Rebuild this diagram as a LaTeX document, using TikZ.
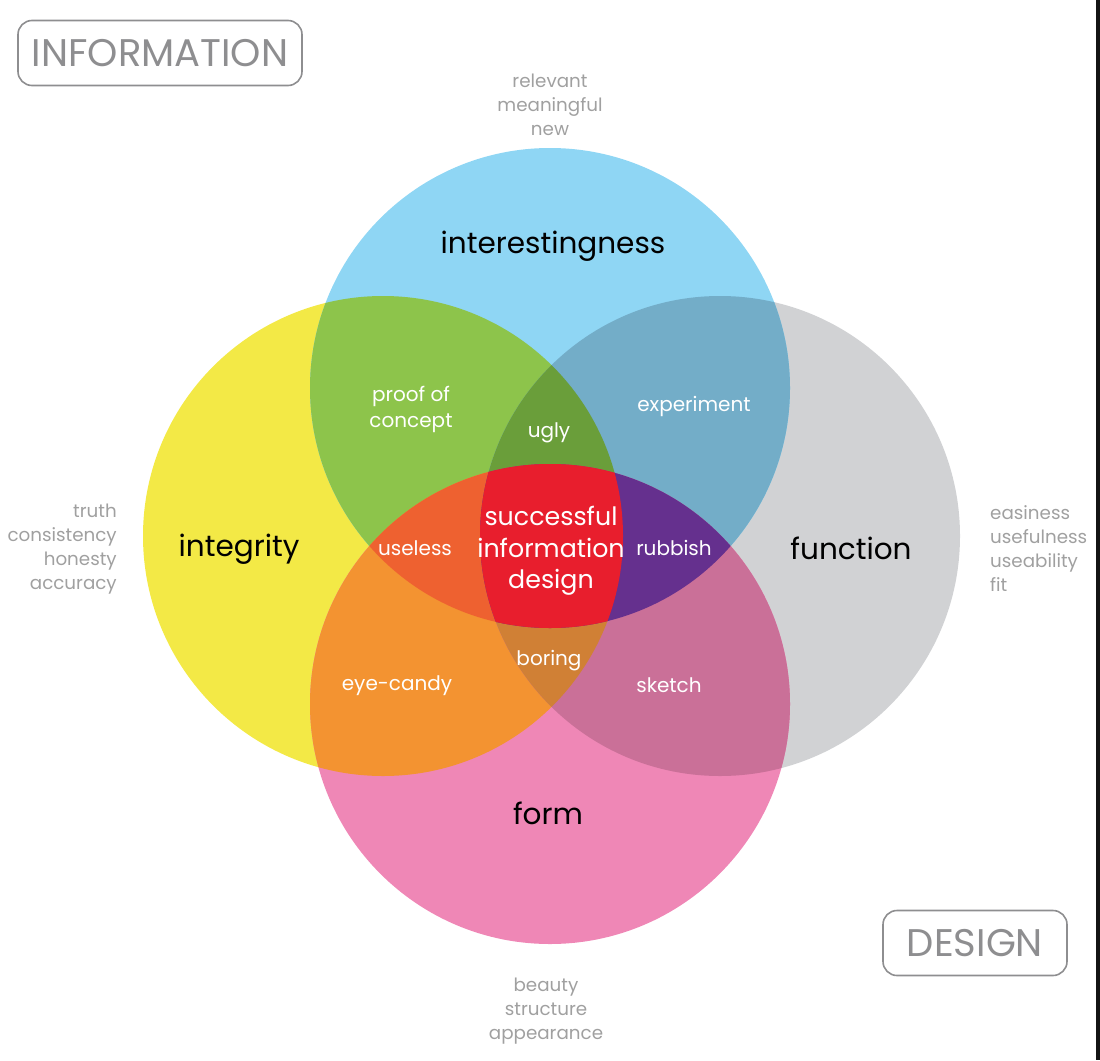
\documentclass[tikz,border=0pt]{standalone}
\usepackage{fontspec}
\setmainfont{Poppins}
\usepackage{xcolor}
\definecolor{skyonly}{HTML}{8FD6F4}
\definecolor{lemononly}{HTML}{F3E946}
\definecolor{greyonly}{HTML}{D1D2D4}
\definecolor{pinkonly}{HTML}{EF87B6}
\definecolor{proofgreen}{HTML}{8DC44B}
\definecolor{expblue}{HTML}{73ADC8}
\definecolor{candyorange}{HTML}{F39331}
\definecolor{sketchmauve}{HTML}{CA7098}
\definecolor{uglygreen}{HTML}{6A9E3A}
\definecolor{uselessred}{HTML}{EE6130}
\definecolor{rubbishpurple}{HTML}{65308E}
\definecolor{boringbrown}{HTML}{D08035}
\definecolor{successred}{HTML}{E81E2D}
\definecolor{tagline}{HTML}{A0A0A0}
\definecolor{boxgrey}{HTML}{8E8E90}
\tikzset{
  bigword/.style={text=black, font=\fontsize{29.5}{32}\selectfont},
  innerword/.style={text=white, font=\fontsize{20}{26}\selectfont, align=center},
  centreword/.style={text=white, font=\fontsize{25.3}{31.5}\selectfont, align=center},
  smallword/.style={text=tagline, font=\fontsize{18.3}{24}\selectfont, inner sep=0pt},
  cornerbox/.style={draw=boxgrey, line width=1.6pt, rounded corners=14pt, text=boxgrey,
    font=\fontsize{38.5}{40}\selectfont, minimum height=65pt, inner xsep=13pt}
}
\def\rr{240pt}

\begin{document}
\begin{tikzpicture}[x=1pt, y=-1pt]
\useasboundingbox (0,0) rectangle (1100,1060);
\fill[black!92] (1096,0) rectangle (1100,1060);
\coordinate (ctop) at (550,388);
\coordinate (cleft) at (383,536);
\coordinate (cright) at (720,536);
\coordinate (cbot) at (550,704);
% single circles
\fill[lemononly] (cleft) circle[radius=\rr];
\fill[greyonly] (cright) circle[radius=\rr];
\fill[pinkonly] (cbot) circle[radius=\rr];
\fill[skyonly] (ctop) circle[radius=\rr];
% pairs
\begin{scope}
  \clip (ctop) circle[radius=\rr];
  \fill[proofgreen] (cleft) circle[radius=\rr];
  \fill[expblue] (cright) circle[radius=\rr];
\end{scope}
\begin{scope}
  \clip (cbot) circle[radius=\rr];
  \fill[candyorange] (cleft) circle[radius=\rr];
  \fill[sketchmauve] (cright) circle[radius=\rr];
\end{scope}
% triples
\begin{scope}
  \clip (cleft) circle[radius=\rr];
  \clip (cright) circle[radius=\rr];
  \fill[uglygreen] (ctop) circle[radius=\rr];
  \fill[boringbrown] (cbot) circle[radius=\rr];
\end{scope}
\begin{scope}
  \clip (ctop) circle[radius=\rr];
  \clip (cbot) circle[radius=\rr];
  \fill[uselessred] (cleft) circle[radius=\rr];
  \fill[rubbishpurple] (cright) circle[radius=\rr];
\end{scope}
% all four
\begin{scope}
  \clip (ctop) circle[radius=\rr];
  \clip (cbot) circle[radius=\rr];
  \clip (cleft) circle[radius=\rr];
  \fill[successred] (cright) circle[radius=\rr];
\end{scope}
% circle names
\node[bigword] (interest) at (553,246) {interestingness};
\node[bigword] (integrity) at (239,549) {integrity};
\node[bigword] (function) at (851,548) {function};
\node[bigword] (form) at (548,813) {form};
% overlaps
\node[innerword] (proof) at (411,409) {proof of\\concept};
\node[innerword] (ugly) at (549,433) {ugly};
\node[innerword] (experiment) at (694,406) {experiment};
\node[innerword] (useless) at (415,548) {useless};
\node[centreword] (success) at (551,551) {successful\\information\\design};
\node[innerword] (rubbish) at (674,548) {rubbish};
\node[innerword] (boring) at (549,661) {boring};
\node[innerword] (eyecandy) at (397,686) {eye-candy};
\node[innerword] (sketch) at (669,685) {sketch};
% qualities round the outside
\node[smallword, align=center] (topwords) at (550,105) {relevant\\meaningful\\new};
\node[smallword, align=right, anchor=east] (leftwords) at (117,549) {truth\\consistency\\honesty\\accuracy};
\node[smallword, align=left, anchor=west] (rightwords) at (990,549) {easiness\\usefulness\\useability\\fit};
\node[smallword, align=center] (botwords) at (546,1011) {beauty\\structure\\appearance};
% corner tags
\node[cornerbox, minimum width=284pt] (information) at (160,53) {INFORMATION};
\node[cornerbox, minimum width=184pt] (design) at (975,943) {DESIGN};
\end{tikzpicture}
\end{document}
